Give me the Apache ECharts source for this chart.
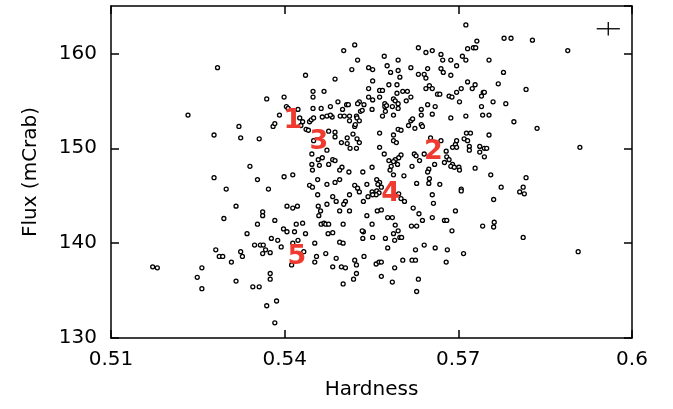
<!DOCTYPE html>
<html>
<head>
<meta charset="utf-8">
<script src="https://cdn.jsdelivr.net/npm/echarts@6/dist/echarts.min.js"></script>
<style>html,body{margin:0;padding:0;background:#fff;}#c{width:673px;height:409px;}</style>
</head>
<body>
<div id="c"></div>
<script>
// [hardness, flux (mCrab)]
const points = [
[0.5284,158.5],[0.5233,153.5],[0.5369,155.2],[0.5399,155.4],[0.5436,157.7],[0.5487,157.3],[0.5502,160.3],[0.5521,160.9],[0.5526,159.3],[0.5516,158.3],
[0.5545,158.5],[0.5552,158.3],[0.5552,157.1],[0.5545,156.3],[0.5449,156.0],[0.5468,156.0],[0.5449,155.4],[0.5492,154.9],[0.5545,155.4],[0.5552,155.1],
[0.5529,154.9],[0.5526,154.7],[0.5537,154.6],[0.5507,154.6],[0.5510,154.6],[0.5479,154.4],[0.5463,154.2],[0.5449,154.2],[0.5500,154.1],[0.5403,154.4],
[0.5406,154.2],[0.5423,154.1],[0.5531,153.9],[0.5534,154.0],[0.5551,154.1],[0.5713,163.0],[0.5732,161.3],[0.5716,160.5],[0.5726,160.6],[0.5730,160.6],
[0.5631,160.6],[0.5644,160.1],[0.5655,160.3],[0.5670,159.9],[0.5673,159.3],[0.5687,159.3],[0.5707,159.7],[0.5713,159.3],[0.5697,158.7],[0.5753,159.3],
[0.5572,159.7],[0.5596,159.3],[0.5577,158.7],[0.5596,158.2],[0.5583,158.0],[0.5599,157.5],[0.5618,158.5],[0.5631,157.8],[0.5641,157.8],[0.5647,158.4],
[0.5644,157.4],[0.5670,158.4],[0.5674,158.0],[0.5687,157.7],[0.5716,157.0],[0.5729,156.7],[0.5724,156.3],[0.5769,156.8],[0.5778,158.0],[0.5580,156.7],
[0.5594,156.7],[0.5650,156.6],[0.5655,156.3],[0.5644,156.3],[0.5664,155.7],[0.5668,155.7],[0.5684,155.5],[0.5689,155.4],[0.5697,155.9],[0.5705,156.3],
[0.5743,155.9],[0.5745,155.9],[0.5740,155.5],[0.5702,154.9],[0.5760,154.9],[0.5740,154.4],[0.5660,154.4],[0.5647,154.6],[0.5636,154.1],[0.5564,156.1],
[0.5569,156.1],[0.5564,155.4],[0.5588,155.2],[0.5591,155.0],[0.5594,155.8],[0.5604,156.0],[0.5612,156.0],[0.5618,155.4],[0.5610,155.0],[0.5596,154.7],
[0.5596,154.2],[0.5573,154.7],[0.5573,154.4],[0.5576,154.5],[0.5586,154.4],[0.5574,153.9],[0.5791,161.6],[0.5828,161.4],[0.5889,160.3],[0.5817,156.2],
[0.5782,154.7],[0.5779,161.6],[0.5321,152.3],[0.5278,151.4],[0.5324,151.1],[0.5278,146.9],[0.5299,145.7],[0.5316,143.9],[0.5295,142.6],[0.5356,151.0],
[0.5340,148.1],[0.5353,146.7],[0.5372,145.7],[0.5399,147.0],[0.5414,147.2],[0.5380,152.3],[0.5383,152.6],[0.5391,153.5],[0.5426,153.2],[0.5431,152.8],
[0.5428,152.4],[0.5437,152.0],[0.5441,151.9],[0.5443,152.8],[0.5446,153.0],[0.5450,153.2],[0.5450,150.8],[0.5465,153.3],[0.5473,153.4],[0.5482,153.3],
[0.5479,153.5],[0.5496,153.4],[0.5503,153.4],[0.5512,153.4],[0.5524,153.4],[0.5512,152.9],[0.5525,153.2],[0.5529,152.9],[0.5521,152.3],[0.5522,152.5],
[0.5476,151.8],[0.5487,151.7],[0.5487,151.2],[0.5508,151.1],[0.5518,151.5],[0.5525,151.0],[0.5529,150.6],[0.5498,150.6],[0.5508,150.5],[0.5513,150.0],
[0.5524,150.0],[0.5473,149.8],[0.5447,149.4],[0.5458,148.8],[0.5465,149.0],[0.5483,148.8],[0.5487,148.7],[0.5447,148.3],[0.5460,148.2],[0.5448,147.7],
[0.5476,148.3],[0.5499,148.0],[0.5495,147.7],[0.5511,147.5],[0.5535,147.5],[0.5551,148.0],[0.5457,146.7],[0.5443,146.1],[0.5448,145.9],[0.5473,146.2],
[0.5487,146.4],[0.5495,146.7],[0.5521,146.1],[0.5526,145.8],[0.5529,145.4],[0.5542,146.2],[0.5512,145.1],[0.5551,145.4],[0.5544,144.9],[0.5457,145.1],
[0.5483,144.9],[0.5489,144.4],[0.5505,144.4],[0.5502,144.1],[0.5536,144.4],[0.5473,144.1],[0.5458,143.9],[0.5404,143.9],[0.5414,143.7],[0.5422,143.9],
[0.5462,143.4],[0.5459,142.9],[0.5495,143.4],[0.5512,143.4],[0.5362,143.3],[0.5362,142.9],[0.5383,142.4],[0.5353,142.0],[0.5420,142.0],[0.5431,142.1],
[0.5463,142.0],[0.5468,142.1],[0.5471,142.0],[0.5476,142.0],[0.5501,142.0],[0.5542,142.9],[0.5551,142.0],[0.5398,141.5],[0.5569,153.4],[0.5588,153.5],
[0.5636,153.5],[0.5655,153.6],[0.5687,153.2],[0.5713,153.4],[0.5742,153.5],[0.5753,153.5],[0.5618,152.9],[0.5621,153.1],[0.5614,152.4],[0.5625,152.1],
[0.5636,152.5],[0.5638,152.3],[0.5564,151.6],[0.5596,152.0],[0.5601,151.9],[0.5588,151.4],[0.5588,150.8],[0.5593,150.6],[0.5564,150.1],[0.5572,149.4],
[0.5652,151.1],[0.5670,150.8],[0.5697,150.8],[0.5695,150.4],[0.5690,150.1],[0.5697,150.1],[0.5710,151.0],[0.5716,150.8],[0.5719,150.2],[0.5719,149.8],
[0.5714,151.6],[0.5721,151.6],[0.5753,151.4],[0.5737,150.2],[0.5745,150.0],[0.5749,150.0],[0.5737,149.6],[0.5745,149.1],[0.5679,149.7],[0.5680,149.1],
[0.5684,148.8],[0.5676,148.5],[0.5690,148.3],[0.5687,148.1],[0.5693,148.0],[0.5701,148.0],[0.5702,147.7],[0.5659,148.3],[0.5624,149.4],[0.5627,149.2],
[0.5633,148.7],[0.5641,149.4],[0.5620,148.1],[0.5601,149.3],[0.5597,149.0],[0.5591,148.8],[0.5588,148.6],[0.5580,148.7],[0.5595,148.3],[0.5584,148.1],
[0.5582,147.7],[0.5588,147.2],[0.5606,147.1],[0.5649,147.8],[0.5647,147.5],[0.5650,146.8],[0.5649,146.3],[0.5668,146.2],[0.5628,146.3],[0.5729,147.9],
[0.5756,147.2],[0.5774,145.9],[0.5705,145.7],[0.5705,145.5],[0.5559,146.7],[0.5564,146.4],[0.5561,146.2],[0.5567,145.9],[0.5559,145.5],[0.5563,145.3],
[0.5558,145.1],[0.5552,145.1],[0.5597,145.2],[0.5601,144.7],[0.5607,144.4],[0.5655,145.1],[0.5657,144.2],[0.5761,144.6],[0.5622,143.7],[0.5695,143.4],
[0.5560,143.4],[0.5567,143.5],[0.5632,143.1],[0.5578,142.7],[0.5586,142.7],[0.5655,142.7],[0.5676,142.4],[0.5680,142.4],[0.5638,142.4],[0.5591,141.9],
[0.5619,141.8],[0.5742,141.8],[0.5762,142.2],[0.5761,141.7],[0.5796,152.8],[0.5836,152.1],[0.5910,150.1],[0.5817,146.9],[0.5812,145.9],[0.5806,145.4],
[0.5814,145.2],[0.5172,137.5],[0.5180,137.4],[0.5257,137.4],[0.5249,136.4],[0.5257,135.2],[0.5281,139.3],[0.5287,138.6],[0.5293,138.6],[0.5308,138.0],
[0.5324,139.1],[0.5327,138.6],[0.5316,136.0],[0.5335,141.0],[0.5404,141.2],[0.5417,141.2],[0.5436,141.0],[0.5423,140.3],[0.5414,140.0],[0.5377,140.5],
[0.5388,140.3],[0.5394,139.6],[0.5348,139.8],[0.5358,139.8],[0.5363,139.8],[0.5367,139.3],[0.5362,138.9],[0.5375,139.0],[0.5433,139.1],[0.5412,137.7],
[0.5452,140.0],[0.5455,138.6],[0.5452,138.0],[0.5471,138.9],[0.5475,141.0],[0.5483,141.1],[0.5495,140.1],[0.5501,140.0],[0.5489,138.4],[0.5483,137.5],
[0.5498,137.5],[0.5505,137.4],[0.5521,138.2],[0.5524,137.7],[0.5524,136.8],[0.5519,136.2],[0.5537,138.6],[0.5535,140.5],[0.5536,141.2],[0.5534,141.3],
[0.5552,140.6],[0.5501,135.7],[0.5375,136.8],[0.5375,136.2],[0.5345,135.4],[0.5356,135.4],[0.5369,133.4],[0.5386,133.9],[0.5383,131.6],[0.5596,141.3],
[0.5628,141.8],[0.5574,140.5],[0.5588,141.0],[0.5590,140.3],[0.5599,140.6],[0.5602,140.6],[0.5689,141.3],[0.5578,139.5],[0.5626,139.3],[0.5641,139.8],
[0.5660,139.5],[0.5681,139.3],[0.5709,138.9],[0.5558,137.8],[0.5563,138.0],[0.5567,138.0],[0.5604,138.2],[0.5620,138.2],[0.5626,138.2],[0.5679,138.0],
[0.5590,137.4],[0.5567,136.5],[0.5586,135.9],[0.5631,136.2],[0.5628,134.9],[0.5812,140.6],[0.5907,139.1]
];

// group labels
const labelText = ['1', '2', '3', '4', '5'];
const labelHardness = [0.5414, 0.5657, 0.5459, 0.5583, 0.5421];
const labelFlux = [152.9, 149.6, 150.7, 145.2, 138.5];

// typical error cross: [hardness, flux, hardness half-width, flux half-height]
const errorCross = [[0.5959, 162.6, 0.0020, 0.71]];

const xTicks = [0.51, 0.54, 0.57, 0.6];
const yTicks = [130, 140, 150, 160];

const font = 'DejaVu Sans';
const chart = echarts.init(document.getElementById('c'), null, {renderer: 'canvas'});

const axisLine = {show: true, lineStyle: {color: '#000', width: 1.5}};
const axisTick = {show: true, inside: true, length: 8, lineStyle: {color: '#000', width: 1.5}};

chart.setOption({
  animation: false,
  backgroundColor: '#fff',
  grid: {left: 111, right: 41, top: 6, bottom: 71, containLabel: false},
  xAxis: [{
    type: 'value', min: xTicks[0], max: xTicks[xTicks.length - 1], interval: 0.03,
    position: 'bottom',
    name: 'Hardness', nameLocation: 'middle', nameGap: 42,
    nameTextStyle: {fontFamily: font, fontSize: 20, color: '#000'},
    axisLine, axisTick,
    splitLine: {show: false},
    axisLabel: {fontFamily: font, fontSize: 20, color: '#000', margin: 12,
      formatter: v => String(+v.toFixed(2))}
  }, {
    type: 'value', min: xTicks[0], max: xTicks[xTicks.length - 1], interval: 0.03,
    position: 'top', axisLine, axisTick, splitLine: {show: false}, axisLabel: {show: false}
  }],
  yAxis: [{
    type: 'value', min: yTicks[0], max: 165, interval: 10,
    position: 'left',
    name: 'Flux (mCrab)', nameLocation: 'middle', nameGap: 70, nameRotate: 90,
    nameTextStyle: {fontFamily: font, fontSize: 20, color: '#000'},
    axisLine, axisTick,
    splitLine: {show: false},
    axisLabel: {fontFamily: font, fontSize: 20, color: '#000', margin: 14, showMaxLabel: false,
      formatter: v => (yTicks.indexOf(v) >= 0 ? String(v) : '')}
  }, {
    type: 'value', min: yTicks[0], max: 165, interval: 10,
    position: 'right', axisLine, axisTick, splitLine: {show: false}, axisLabel: {show: false}
  }],
  series: [{
    type: 'scatter',
    data: points,
    symbol: 'circle',
    symbolSize: 4,
    itemStyle: {color: '#fff', borderColor: '#000', borderWidth: 1.3, opacity: 1}
  }, {
    type: 'custom',
    data: errorCross,
    renderItem: function (params, api) {
      const x = api.value(0), y = api.value(1), dx = api.value(2), dy = api.value(3);
      const l = api.coord([x - dx, y]), r = api.coord([x + dx, y]);
      const t = api.coord([x, y + dy]), b = api.coord([x, y - dy]);
      const st = {stroke: '#000', lineWidth: 1.3};
      return {type: 'group', children: [
        {type: 'line', shape: {x1: l[0], y1: l[1], x2: r[0], y2: r[1]}, style: st},
        {type: 'line', shape: {x1: t[0], y1: t[1], x2: b[0], y2: b[1]}, style: st}
      ]};
    }
  }, {
    type: 'custom',
    z: 10,
    data: labelText.map((t, i) => [labelHardness[i], labelFlux[i], i]),
    renderItem: function (params, api) {
      const p = api.coord([api.value(0), api.value(1)]);
      return {
        type: 'text',
        style: {
          text: labelText[api.value(2)], x: p[0], y: p[1],
          align: 'center', verticalAlign: 'middle',
          fontFamily: font, fontWeight: 'bold', fontSize: 27, fill: '#ef3b2f', opacity: 1
        }
      };
    }
  }]
});
</script>
</body>
</html>
